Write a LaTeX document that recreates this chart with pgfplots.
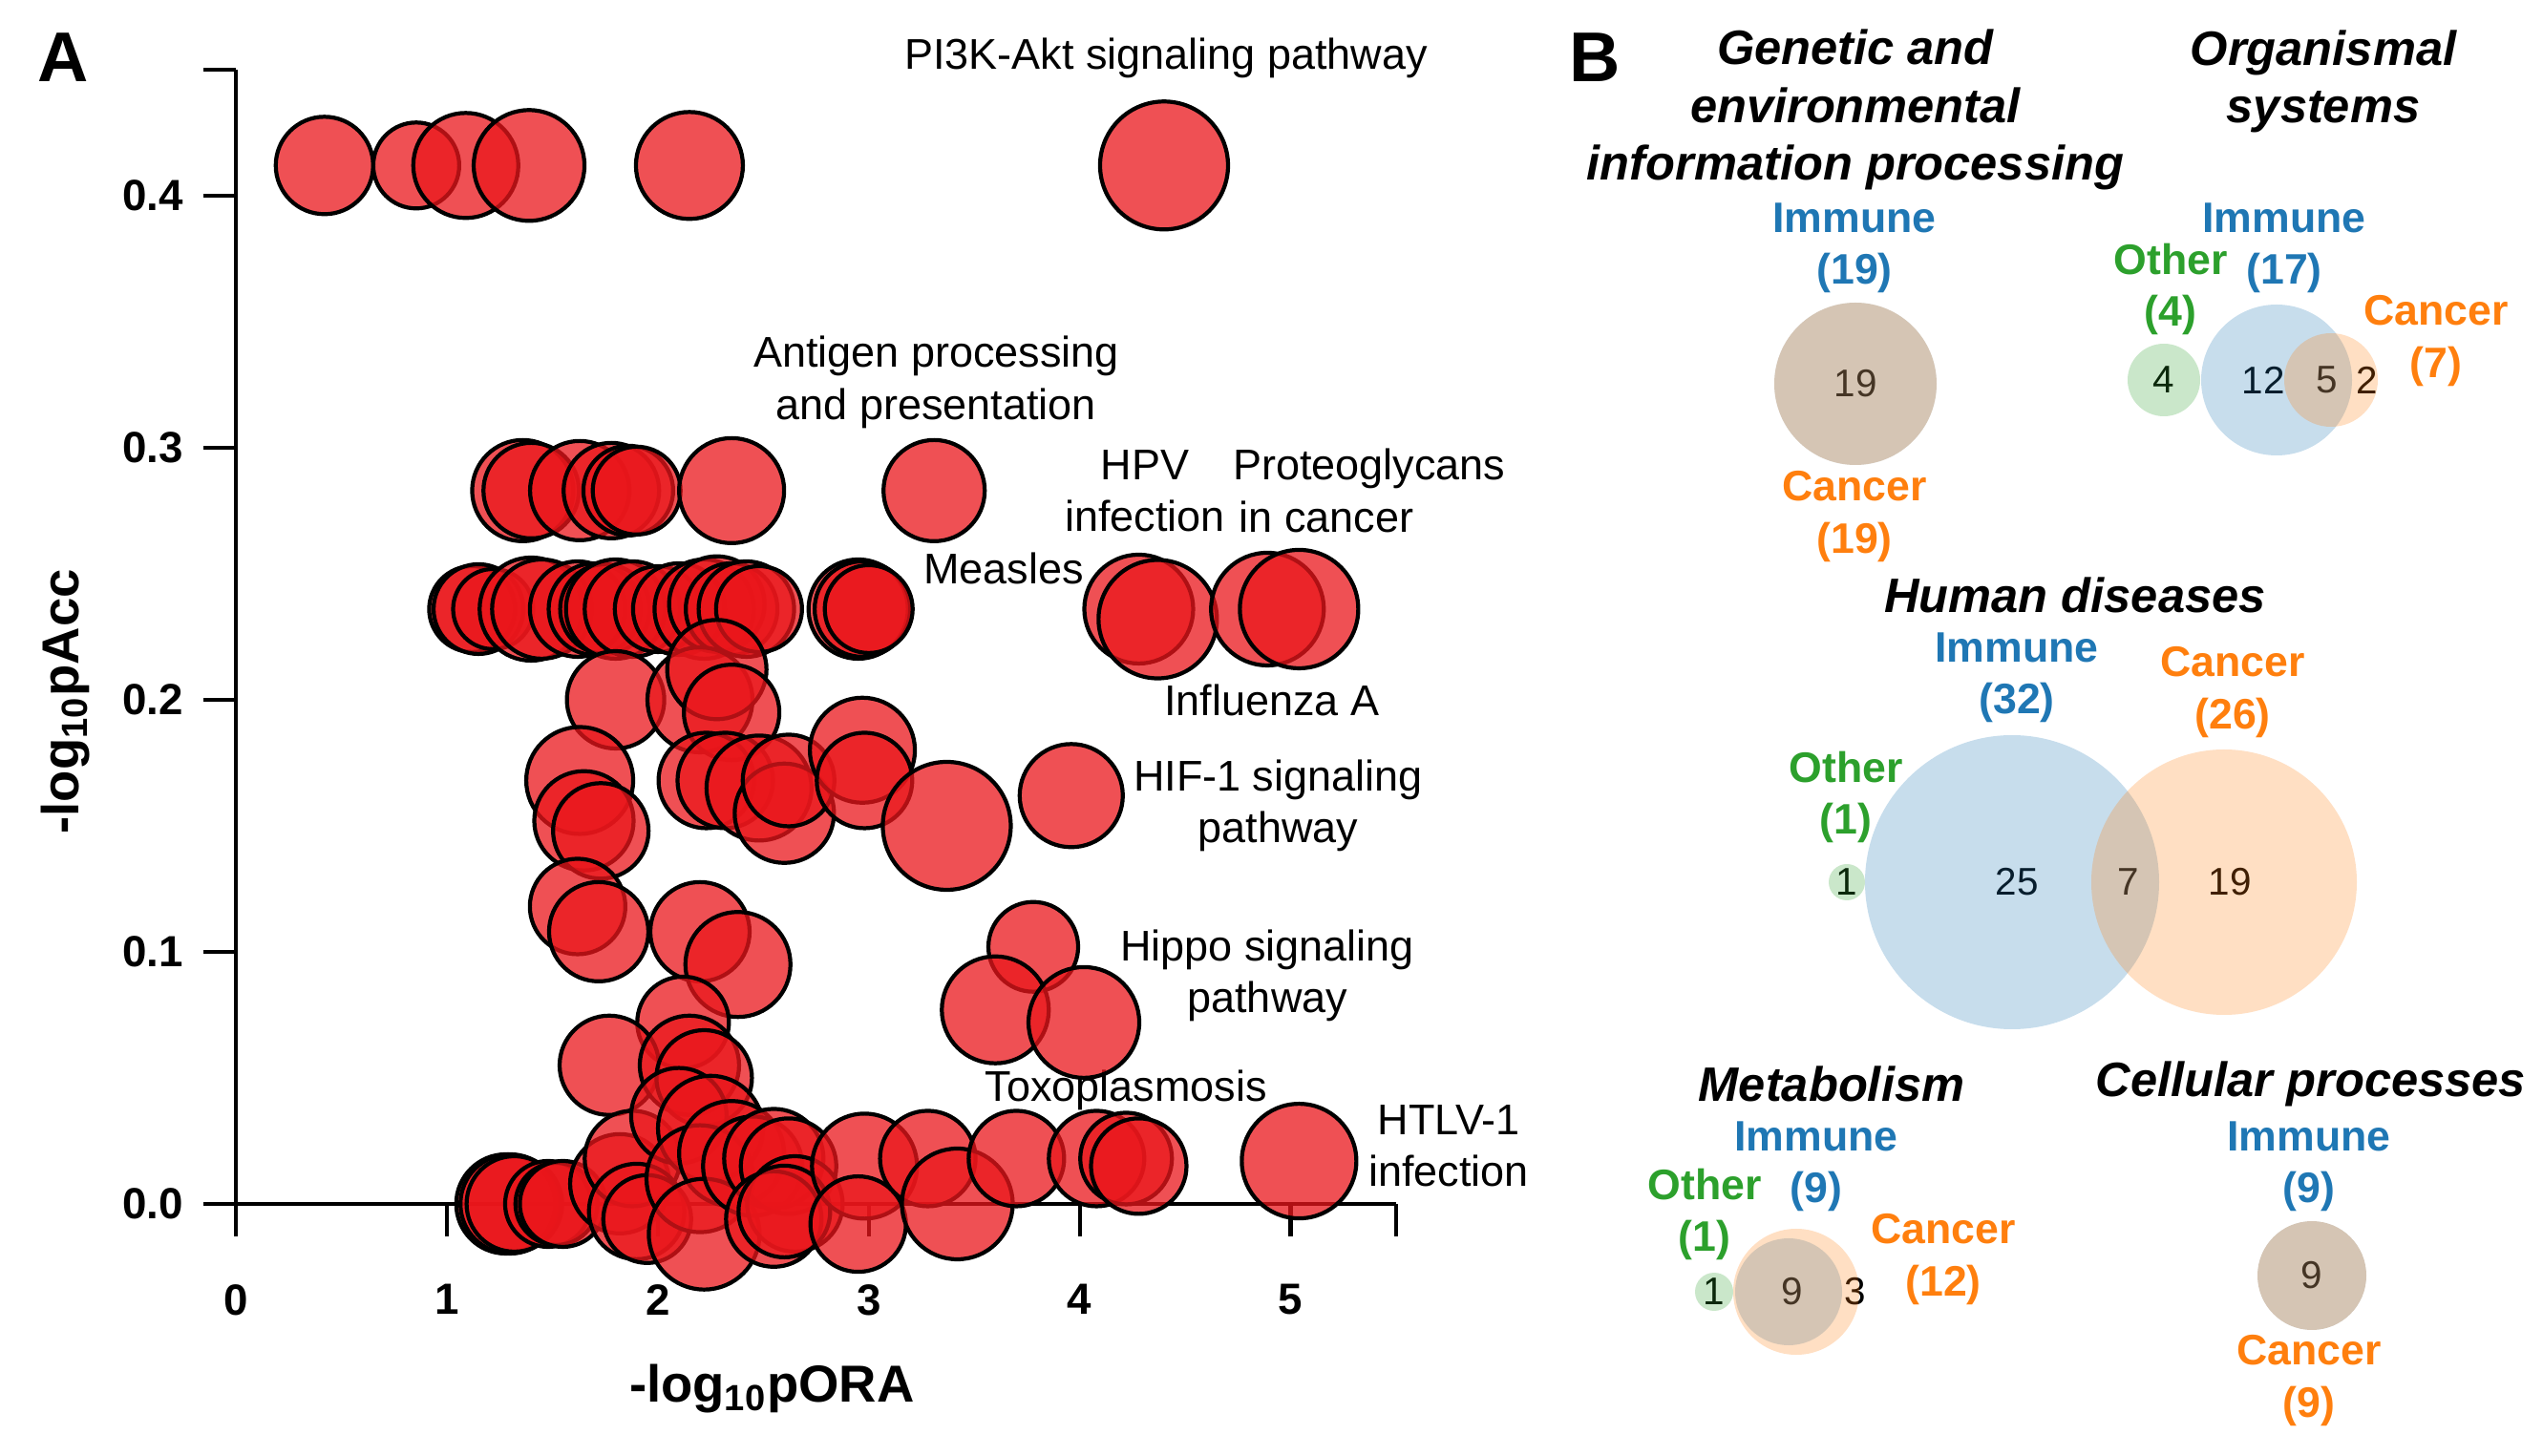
\documentclass[border=0pt]{standalone}
\usepackage{pgfplots}
\usepackage{pgfplotstable}
\pgfplotsset{compat=1.18}
\usepackage{fontspec}
\setmainfont{Liberation Sans}

\definecolor{bubred}{RGB}{234,22,27}
\definecolor{imm}{RGB}{31,119,180}
\definecolor{canc}{RGB}{255,127,14}
\definecolor{oth}{RGB}{44,160,44}
\newcommand{\fs}[2]{\fontsize{#1}{#2}\selectfont}

% pathways: -log10 pORA, -log10 pAcc, bubble radius (px)
\pgfplotstableread{
x y r
0.42 0.412 51
0.855 0.412 45
1.09 0.412 55
1.39 0.412 58
2.15 0.412 56
4.40 0.412 67
1.36 0.283 53
1.40 0.283 50
1.63 0.283 52
1.78 0.283 50
1.86 0.283 47
1.90 0.283 46
2.35 0.283 55
3.31 0.283 53
1.12 0.236 45
1.15 0.236 47
1.22 0.236 42
1.40 0.236 54
1.45 0.236 52
1.62 0.236 50
1.70 0.236 48
1.75 0.236 47
1.80 0.236 52
1.88 0.236 50
2.00 0.236 45
2.10 0.236 48
2.22 0.236 52
2.28 0.238 50
2.35 0.236 48
2.42 0.236 50
2.48 0.236 45
2.95 0.236 52
2.97 0.236 50
3.00 0.236 46
4.28 0.236 57
4.37 0.232 62
4.89 0.236 59
5.04 0.236 62
1.80 0.200 51
2.20 0.200 55
2.28 0.212 52
2.35 0.195 50
1.63 0.168 56
1.65 0.152 52
1.73 0.148 50
2.23 0.168 50
2.32 0.168 50
2.48 0.165 55
2.60 0.155 52
2.62 0.168 48
2.97 0.180 55
2.98 0.168 50
3.37 0.150 67
3.96 0.162 54
1.62 0.118 50
1.72 0.108 52
2.20 0.108 52
2.38 0.095 55
3.78 0.102 47
3.60 0.077 56
4.02 0.072 58
2.12 0.072 48
1.77 0.055 52
2.15 0.055 52
2.22 0.050 50
1.28 0.000 52
1.30 0.000 52
1.32 0.000 50
1.48 0.000 45
1.52 0.000 43
1.55 0.000 45
1.82 0.008 52
1.88 0.018 50
1.90 -0.003 50
1.95 -0.006 46
2.10 0.035 50
2.25 0.030 55
2.20 0.010 56
2.35 0.020 55
2.22 -0.012 58
2.45 0.015 52
2.55 0.018 52
2.62 0.015 50
2.65 0.000 50
2.55 -0.006 50
2.60 -0.003 48
2.98 0.015 55
2.95 -0.008 50
3.28 0.018 50
3.42 0.000 58
3.70 0.018 50
4.08 0.018 50
4.22 0.018 48
4.28 0.015 50
5.04 0.017 60
}\bubbles

% Venn circles: centre column, centre row, radius (px)
\pgfplotstableread{
x y r
1943 402 85
2384 398 79
2107 924 154
1873 1353 56
2421 1336 57
}\immune
\pgfplotstableread{
x y r
1943 402 85
2441 398 49
2329 924 139
1881 1353 66
2421 1336 57
}\cancer
\pgfplotstableread{
x y r
2266 398 38
1934 924 19
1795 1353 20
}\other

\pgfplotsset{
  venn/.style={scatter, only marks, mark=*,
    scatter/use mapped color={draw=none, fill=#1},
    mark options={fill opacity=0.25, draw opacity=0},
    visualization depends on={\thisrow{r}*0.28453 \as \rad},
    scatter/@pre marker code/.append style={/tikz/mark size=\rad pt}},
}

\begin{document}
\begin{tikzpicture}
\path[use as bounding box] (0,0) rectangle (26.63,15.25);

% ---------------- panel A ----------------
\begin{axis}[
  at={(2.47cm,2.64cm)}, anchor=south west,
  scale only axis, width=12.15cm, height=11.88cm,
  xmin=0, xmax=5.5, ymin=0, ymax=0.45,
  axis x line*=bottom, axis y line*=left,
  axis line style={line width=1.2pt},
  y axis line style={shorten <=-0.34cm},
  every tick/.style={line width=1.2pt, black},
  tick align=outside, major tick length=0.34cm,
  xtick={0,1,2,3,4,5}, ytick={0,0.1,0.2,0.3,0.4},
  extra x ticks={5.5}, extra x tick labels={},
  extra y ticks={0.45}, extra y tick labels={},
  /pgf/number format/assume math mode=true,
  tick label style={font=\bfseries\fs{13}{13}},
  xticklabel style={yshift=-0.38cm},
  yticklabel style={xshift=-0.085cm, /pgf/number format/.cd, fixed, fixed zerofill, precision=1},
  xlabel={-log\textsubscript{10}pORA},
  ylabel={-log\textsubscript{10}pAcc},
  label style={font=\bfseries\fs{15.5}{15.5}},
  xlabel style={at={(axis description cs:0.462,-0.163)}, anchor=center},
  ylabel style={at={(axis description cs:-0.147,0.443)}, anchor=center},
  clip=false,
]
\addplot[scatter, only marks, mark=*,
  scatter/use mapped color={draw=black, fill=bubred},
  mark options={line width=1.2pt, fill opacity=0.75},
  visualization depends on={\thisrow{r}*0.28453 \as \rad},
  scatter/@pre marker code/.append style={/tikz/mark size=\rad pt}]
  table[x=x, y=y] {\bubbles};

\begin{scope}[every node/.style={font=\fs{12.8}{15.4}, align=center}]
\node at (axis cs:4.41,0.4545) {PI3K-Akt signaling pathway};
\node at (axis cs:3.32,0.326) {Antigen processing\\and presentation};
\node at (axis cs:4.31,0.283) {HPV\\infection};
\node[align=left, anchor=west] at (axis cs:4.67,0.283) {Proteoglycans\\\hspace{0.15em}in cancer};
\node at (axis cs:3.64,0.252) {Measles};
\node at (axis cs:4.91,0.200) {Influenza A};
\node at (axis cs:4.94,0.158) {HIF-1 signaling\\pathway};
\node at (axis cs:4.89,0.0905) {Hippo signaling\\pathway};
\node at (axis cs:4.22,0.045) {Toxoplasmosis};
\node at (axis cs:5.75,0.023) {HTLV-1\\infection};
\end{scope}
\node[font=\bfseries\fs{21}{21}] at (axis description cs:-0.149,1.011) {A};
\end{axis}

% ---------------- panel B ----------------
\begin{axis}[
  at={(16cm,0cm)}, anchor=south west,
  scale only axis, width=10.63cm, height=15.25cm,
  xmin=1600, xmax=2663, ymin=0, ymax=1525, y dir=reverse,
  hide axis, clip=false,
]
\addplot[venn=imm] table[x=x, y=y] {\immune};
\addplot[venn=canc] table[x=x, y=y] {\cancer};
\addplot[venn=oth] table[x=x, y=y] {\other};

\node[font=\bfseries\fs{21}{21}] at (axis cs:1670,60) {B};

\begin{scope}[every node/.style={font=\bfseries\itshape\fs{14.4}{17.1}, align=center}]
\node at (axis cs:1943,115) {Genetic and\\environmental\\information processing};
\node at (axis cs:2433,85) {Organismal\\systems};
\node at (axis cs:2173,623) {Human diseases};
\node at (axis cs:1918,1135) {Metabolism};
\node at (axis cs:2420,1135) {Cellular processes};
\end{scope}

\begin{scope}[every node/.style={font=\bfseries\fs{12.7}{15.4}, align=center}]
\node[imm] at (axis cs:1942,260) {Immune\\(19)};
\node[canc] at (axis cs:1942,541) {Cancer\\(19)};
\node[imm] at (axis cs:2392,260) {Immune\\(17)};
\node[oth] at (axis cs:2273,303) {Other\\(4)};
\node[canc] at (axis cs:2551,357) {Cancer\\(7)};
\node[imm] at (axis cs:2112,710) {Immune\\(32)};
\node[canc] at (axis cs:2338,725) {Cancer\\(26)};
\node[oth] at (axis cs:1933,835) {Other\\(1)};
\node[imm] at (axis cs:1902,1222) {Immune\\(9)};
\node[oth] at (axis cs:1785,1272) {Other\\(1)};
\node[canc] at (axis cs:2035,1319) {Cancer\\(12)};
\node[imm] at (axis cs:2418,1222) {Immune\\(9)};
\node[canc] at (axis cs:2418,1446) {Cancer\\(9)};
\end{scope}

\begin{scope}[every node/.style={font=\fs{11.5}{11.5}}]
\node at (axis cs:1943,402) {19};
\node at (axis cs:2266,398) {4};
\node at (axis cs:2370,398) {12};
\node at (axis cs:2437,398) {5};
\node at (axis cs:2479,398) {2};
\node at (axis cs:1934,924) {1};
\node at (axis cs:2112,924) {25};
\node at (axis cs:2229,924) {7};
\node at (axis cs:2335,924) {19};
\node at (axis cs:1795,1353) {1};
\node at (axis cs:1877,1353) {9};
\node at (axis cs:1943,1353) {3};
\node at (axis cs:2421,1336) {9};
\end{scope}
\end{axis}
\end{tikzpicture}
\end{document}
